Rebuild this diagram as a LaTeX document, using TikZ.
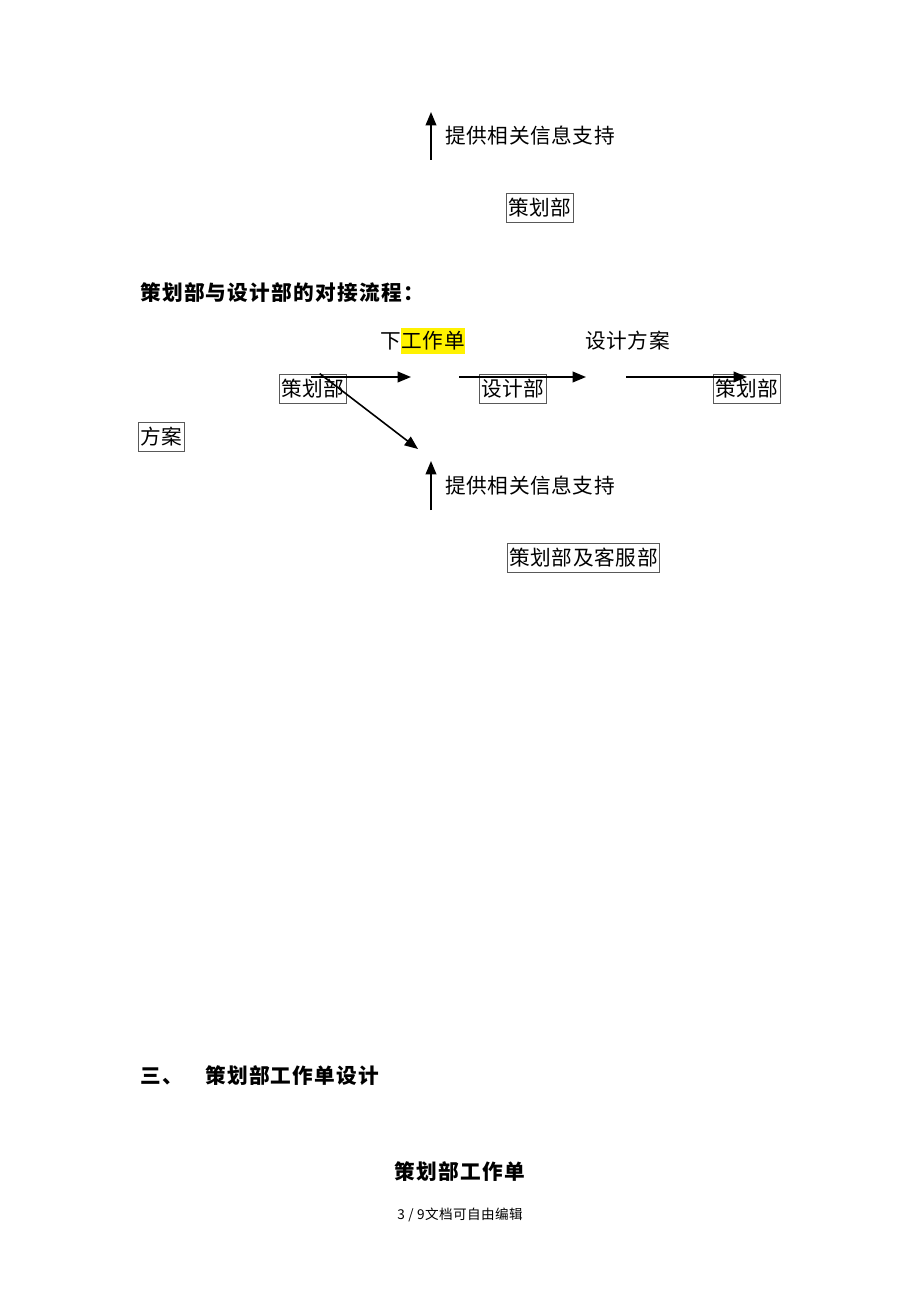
\documentclass[tikz,border=0pt]{standalone}
\usepackage{fontspec}
\newfontfamily\cjk[LetterSpace=3]{Noto Sans CJK SC}
\newfontfamily\cjkhead[LetterSpace=6]{Noto Sans CJK SC}
\usetikzlibrary{positioning}
\usetikzlibrary{arrows.meta}

\tikzset{
    dept/.style={draw=black!65, line width=0.6pt, inner xsep=1.5pt, inner ysep=0pt,
        minimum height=21.75pt, font=\cjk\fontsize{15.5}{16}\selectfont},
    note/.style={inner sep=0pt, font=\cjk\fontsize{15.5}{16}\selectfont},
    head/.style={inner sep=0pt, font=\cjkhead\bfseries\fontsize{15.5}{16}\selectfont},
    flow/.style={-{Triangle[length=10pt,width=8pt]}, line width=1.2pt},
}

\begin{document}
\begin{tikzpicture}[x=0.75pt, y=-0.75pt]
    \useasboundingbox (0,0) rectangle (920,1302);

    % Upper block (end of previous flow)
    \coordinate (up1a) at (431,160);
    \coordinate (up1b) at (431,112);
    \draw[flow] (up1a) -- (up1b);
    \node[note, anchor=west] (info1) at (445,136) {提供相关信息支持};
    \node[dept] (plan0) at (540,208) {策划部};

    % Heading
    \node[head, anchor=west] (title) at (140,293) {策划部与设计部的对接流程：};

    % Labels above the arrows
    \node[note, anchor=west] (xia) at (380,341) {下};
    \node[note, fill=yellow, inner ysep=3pt, right=0pt of xia] (order) {工作单};
    \node[note, anchor=west] (scheme) at (585,341) {设计方案};

    % Departments in the flow
    \node[dept] (plan) at (313,388.5) {策划部};
    \node[dept] (design) at (513,388.5) {设计部};
    \node[dept] (planR) at (747,388.5) {策划部};
    \node[dept] (fangan) at (161,437) {方案};

    % Arrows of the flow
    \coordinate (a1) at (311,377);
    \coordinate (a1e) at (411,377);
    \coordinate (a2) at (459,377);
    \coordinate (a2e) at (586,377);
    \coordinate (a3) at (626,377);
    \coordinate (diag) at (418,449);
    \draw[flow] (a1) -- (a1e);
    \draw[flow] (a2) -- (a2e);
    \draw[flow] (a3) -- (a3 -| planR.center);
    \draw[flow] ([xshift=5pt]plan.north) -- (diag);

    % Support from planning and service
    \coordinate (up2a) at (431,510);
    \coordinate (up2b) at (431,461);
    \draw[flow] (up2a) -- (up2b);
    \node[note, anchor=west] (info2) at (445,486) {提供相关信息支持};
    \node[dept] (service) at (583.5,557.5) {策划部及客服部};

    % Section three
    \node[head, anchor=west] (sec) at (140,1076) {三、};
    \node[head, anchor=west] (secT) at (205,1076) {策划部工作单设计};
    \node[head] (form) at (460,1172) {策划部工作单};
    \node[inner sep=0pt, font=\cjk\fontsize{10.2}{11}\selectfont] (foot) at (460,1215) {3 / 9文档可自由编辑};
\end{tikzpicture}
\end{document}
